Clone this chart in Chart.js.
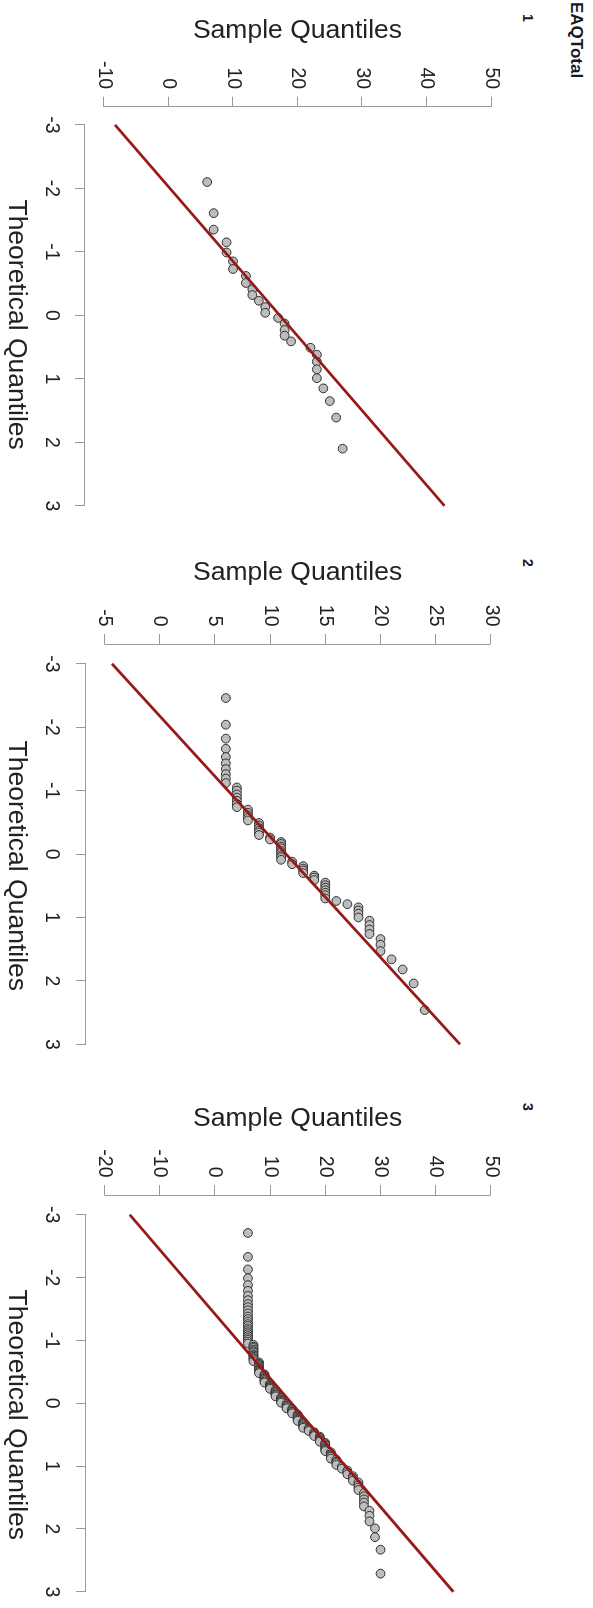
<!DOCTYPE html>
<html>
<head>
<meta charset="utf-8">
<title>EAQTotal normal Q-Q plots</title>
<script src="https://cdn.jsdelivr.net/npm/chart.js@4.4.1/dist/chart.umd.min.js"></script>
<style>
  html, body { margin: 0; padding: 0; background: #fff; width: 593px; height: 1608px; overflow: hidden; }
  /* the R plot was laid out landscape and turned a quarter turn clockwise */
  #page {
    position: absolute; left: 0; top: 0; width: 1608px; height: 593px;
    transform-origin: 0 0; transform: translate(593px, 0) rotate(90deg);
  }
  #page canvas { position: absolute; top: 0; }
  .lab {
    position: absolute; white-space: nowrap; line-height: 1; color: #161a28;
    font-family: 'Liberation Sans', Arial, sans-serif;
  }
</style>
</head>
<body>
<div id="page">
  <div class="lab" style="left:2px; top:7.5px; font-size:17px; font-weight:bold;">EAQTotal</div>
  <div class="lab" style="left:14px; top:58px; font-size:14px; font-weight:bold;">1</div>
  <div class="lab" style="left:559px; top:58px; font-size:14px; font-weight:bold;">2</div>
  <div class="lab" style="left:1103px; top:58px; font-size:14px; font-weight:bold;">3</div>
  <canvas id="qq1" width="548" height="593" style="left:0px"></canvas>
  <canvas id="qq2" width="556" height="593" style="left:537px"></canvas>
  <canvas id="qq3" width="552" height="593" style="left:1088px"></canvas>
</div>
<script>
const FONT = "'Liberation Sans', Arial, sans-serif";
const COLORS = {
  text:  '#222222',
  axis:  '#9a9a9a',
  line:  '#961a1a',
  fill:  '#bdbdbd',
  edge:  '#2e2e2e',
};

const THEO_TICKS = [-3, -2, -1, 0, 1, 2, 3];
const SAMPLE_TICKS_1 = [-10, 0, 10, 20, 30, 40, 50];
const SAMPLE_TICKS_2 = [-5, 0, 5, 10, 15, 20, 25, 30];
const SAMPLE_TICKS_3 = [-20, -10, 0, 10, 20, 30, 40, 50];

// reference line end points (theoretical, sample)
const LINE_Q = [-3, 3];
const LINE_S_1 = [-8.3, 42.8];
const LINE_S_2 = [-4.3, 27.2];
const LINE_S_3 = [-15.4, 43.2];

// panel 1
const THEO_1 = [
  -2.10, -1.61, -1.35, -1.15, -0.99, -0.85, -0.73, -0.62, -0.51, -0.41, -0.32, -0.23, -0.13, -0.04,
   0.04,  0.13,  0.23,  0.32,  0.41,  0.51,  0.62,  0.73,  0.85,  0.99,  1.15,  1.35,  1.61,  2.10
];
const SAMPLE_1 = [6, 7, 7, 9, 9, 10, 10, 12, 12, 13, 13, 14, 15, 15,
                  17, 18, 18, 18, 19, 22, 23, 23, 23, 23, 24, 25, 26, 27];

// panel 2
const THEO_2 = [
  -2.46, -2.04, -1.82, -1.66, -1.53, -1.43, -1.34, -1.26, -1.19, -1.12, -1.05, -1.00,
  -0.94, -0.89, -0.84, -0.79, -0.74, -0.70, -0.65, -0.61, -0.57, -0.53, -0.49, -0.45,
  -0.41, -0.37, -0.34, -0.30, -0.26, -0.23, -0.19, -0.16, -0.12, -0.09, -0.05, -0.02,
   0.02,  0.05,  0.09,  0.12,  0.16,  0.19,  0.23,  0.26,  0.30,  0.34,  0.37,  0.41,
   0.45,  0.49,  0.53,  0.57,  0.61,  0.65,  0.70,  0.74,  0.79,  0.84,  0.89,  0.94,
   1.00,  1.05,  1.12,  1.19,  1.26,  1.34,  1.43,  1.53,  1.66,  1.82,  2.04,  2.46
];
const SAMPLE_2 = [
  6, 6, 6, 6, 6, 6, 6, 6, 6, 6,
  7, 7, 7, 7, 7, 7, 7,
  8, 8, 8, 8, 8,
  9, 9, 9, 9, 9, 9,
  10, 10,
  11, 11, 11, 11, 11, 11, 11, 11, 11,
  12, 12,
  13, 13, 13, 13,
  14, 14, 14,
  15, 15, 15, 15, 15, 15, 15,
  16, 17,
  18, 18, 18, 18,
  19, 19, 19, 19,
  20, 20, 20,
  21, 22, 23, 24
];

// panel 3
const THEO_3 = [
  -2.71, -2.33, -2.13, -1.99, -1.88, -1.79, -1.71, -1.64, -1.58, -1.53,
  -1.48, -1.43, -1.38, -1.34, -1.30, -1.26, -1.23, -1.19, -1.16, -1.13,
  -1.10, -1.07, -1.04, -1.01, -0.98, -0.95, -0.93, -0.90, -0.88, -0.85,
  -0.83, -0.81, -0.78, -0.76, -0.74, -0.72, -0.70, -0.67, -0.65, -0.63,
  -0.61, -0.59, -0.57, -0.55, -0.53, -0.52, -0.50, -0.48, -0.46, -0.44,
  -0.42, -0.40, -0.39, -0.37, -0.35, -0.33, -0.31, -0.30, -0.28, -0.26,
  -0.25, -0.23, -0.21, -0.19, -0.18, -0.16, -0.14, -0.13, -0.11, -0.09,
  -0.08, -0.06, -0.04, -0.03, -0.01,
   0.01,  0.03,  0.04,  0.06,  0.08,  0.09,  0.11,  0.13,  0.14,  0.16,
   0.18,  0.19,  0.21,  0.23,  0.25,  0.26,  0.28,  0.30,  0.31,  0.33,
   0.35,  0.37,  0.39,  0.40,  0.42,  0.44,  0.46,  0.48,  0.50,  0.52,
   0.53,  0.55,  0.57,  0.59,  0.61,  0.63,  0.65,  0.67,  0.70,  0.72,
   0.74,  0.76,  0.78,  0.81,  0.83,  0.85,  0.88,  0.90,  0.93,  0.95,
   0.98,  1.01,  1.04,  1.07,  1.10,  1.13,  1.16,  1.19,  1.23,  1.26,
   1.30,  1.34,  1.38,  1.43,  1.48,  1.53,  1.58,  1.64,  1.71,  1.79,
   1.88,  1.99,  2.13,  2.33,  2.71
];
const SAMPLE_3 = [
  6, 6, 6, 6, 6, 6, 6, 6, 6, 6, 6, 6, 6, 6, 6, 6, 6, 6, 6, 6, 6, 6, 6, 6, 6, 6,
  7, 7, 7, 7, 7, 7, 7, 7, 7, 7, 7, 7,
  8, 8, 8, 8, 8, 8, 8, 8, 8, 8,
  9, 9, 9, 9, 9, 9, 9, 9,
  10, 10, 10, 10, 10, 10,
  11, 11, 11, 11, 11, 11, 11,
  12, 12, 12, 12, 12, 12,
  13, 13, 13, 13, 13,
  14, 14, 14, 14, 14,
  15, 15, 15, 15, 15, 15, 15,
  16, 16, 16, 16, 16, 16,
  17, 17, 17,
  18, 18, 18, 18,
  19, 19, 19, 19, 19,
  20, 20, 20, 20, 20, 20, 20,
  21, 21, 21, 21, 21,
  22, 22, 22, 22,
  23, 23,
  24, 24, 24,
  25, 25, 25,
  26, 26, 26, 26,
  27, 27, 27, 27, 27,
  28, 28, 28,
  29, 29,
  30, 30
];

// where each panel sits on its canvas (pixels, landscape orientation)
const GEOM = [
  { id: 'qq1', area: [106.7, 83,   545.3, 508], theoPx: [125, 508.3], samplePx: [489,   102], yTitlePad: 14.8, xTickPad: 12.3 },
  { id: 'qq2', area: [107,   83.7, 555,   507], theoPx: [127, 511.3], samplePx: [488.7, 102], yTitlePad: 20.1, xTickPad: 13.3 },
  { id: 'qq3', area: [107,   83.7, 552,   507], theoPx: [127, 508.7], samplePx: [488.7, 102], yTitlePad: 14.4, xTickPad: 13.3 },
];

const alignPx = v => Math.round(v - 0.5) + 0.5;

// R draws the axis line only from the first to the last tick
const axisLines = {
  id: 'axisLines',
  afterDraw(chart) {
    const { ctx, chartArea, scales: { x, y } } = chart;
    const xb = alignPx(chartArea.bottom);
    const yl = alignPx(chartArea.left);
    ctx.save();
    ctx.strokeStyle = COLORS.axis;
    ctx.lineWidth = 1;
    ctx.beginPath();
    ctx.moveTo(alignPx(x.getPixelForValue(x.ticks[0].value)), xb);
    ctx.lineTo(alignPx(x.getPixelForValue(x.ticks[x.ticks.length - 1].value)), xb);
    ctx.moveTo(yl, alignPx(y.getPixelForValue(y.ticks[0].value)));
    ctx.lineTo(yl, alignPx(y.getPixelForValue(y.ticks[y.ticks.length - 1].value)));
    ctx.stroke();
    ctx.restore();
  }
};

function makePanel(g, theo, sample, sampleTicks, lineS) {
  const canvas = document.getElementById(g.id);
  const W = canvas.width, H = canvas.height;
  const [l, t, r, b] = g.area;

  const q0 = THEO_TICKS[0], q1 = THEO_TICKS[THEO_TICKS.length - 1];
  const kx = (q1 - q0) / (g.theoPx[1] - g.theoPx[0]);
  const xMin = q0 + (l - g.theoPx[0]) * kx;
  const xMax = q0 + (r - g.theoPx[0]) * kx;

  const s0 = sampleTicks[0], s1 = sampleTicks[sampleTicks.length - 1];
  const ky = (s1 - s0) / (g.samplePx[1] - g.samplePx[0]);
  const yMin = s0 + (b - g.samplePx[0]) * ky;
  const yMax = s0 + (t - g.samplePx[0]) * ky;

  const tickFont = { family: FONT, size: 19.5 };
  const titleFont = { family: FONT, size: 26.5 };
  const grid = { display: true, drawOnChartArea: false, drawTicks: true, tickLength: 10, color: COLORS.axis, lineWidth: 1 };

  new Chart(canvas, {
    type: 'scatter',
    data: {
      datasets: [
        {
          type: 'line',
          data: LINE_Q.map((q, i) => ({ x: q, y: lineS[i] })),
          borderColor: COLORS.line,
          borderWidth: 2.8,
          pointRadius: 0,
          fill: false,
          tension: 0,
        },
        {
          data: theo.map((q, i) => ({ x: q, y: sample[i] })),
          pointRadius: 4.4,
          pointBackgroundColor: COLORS.fill,
          pointBorderColor: COLORS.edge,
          pointBorderWidth: 1,
        }
      ]
    },
    options: {
      responsive: false, animation: false, events: [],
      layout: { padding: { left: 0, top: t, right: W - r, bottom: 0 } },
      plugins: { legend: { display: false }, tooltip: { enabled: false } },
      scales: {
        x: {
          type: 'linear', position: 'bottom', min: xMin, max: xMax,
          afterBuildTicks: s => { s.ticks = THEO_TICKS.map(v => ({ value: v })); },
          afterFit: s => { s.height = H - b; },
          grid, border: { display: false },
          ticks: { autoSkip: false, minRotation: 0, maxRotation: 0, padding: g.xTickPad, color: COLORS.text, font: tickFont },
          title: { display: true, text: 'Theoretical Quantiles', color: COLORS.text, font: titleFont, padding: { top: 0, bottom: 0 } },
        },
        y: {
          type: 'linear', position: 'left', min: yMin, max: yMax,
          afterBuildTicks: s => { s.ticks = sampleTicks.map(v => ({ value: v })); },
          afterFit: s => { s.width = l; },
          grid, border: { display: false },
          ticks: { autoSkip: false, padding: 7.5, color: COLORS.text, font: tickFont },
          title: { display: true, text: 'Sample Quantiles', color: COLORS.text, font: titleFont, padding: { top: g.yTitlePad, bottom: 0 } },
        }
      }
    },
    plugins: [axisLines]
  });
}

makePanel(GEOM[0], THEO_1, SAMPLE_1, SAMPLE_TICKS_1, LINE_S_1);
makePanel(GEOM[1], THEO_2, SAMPLE_2, SAMPLE_TICKS_2, LINE_S_2);
makePanel(GEOM[2], THEO_3, SAMPLE_3, SAMPLE_TICKS_3, LINE_S_3);
</script>
</body>
</html>
